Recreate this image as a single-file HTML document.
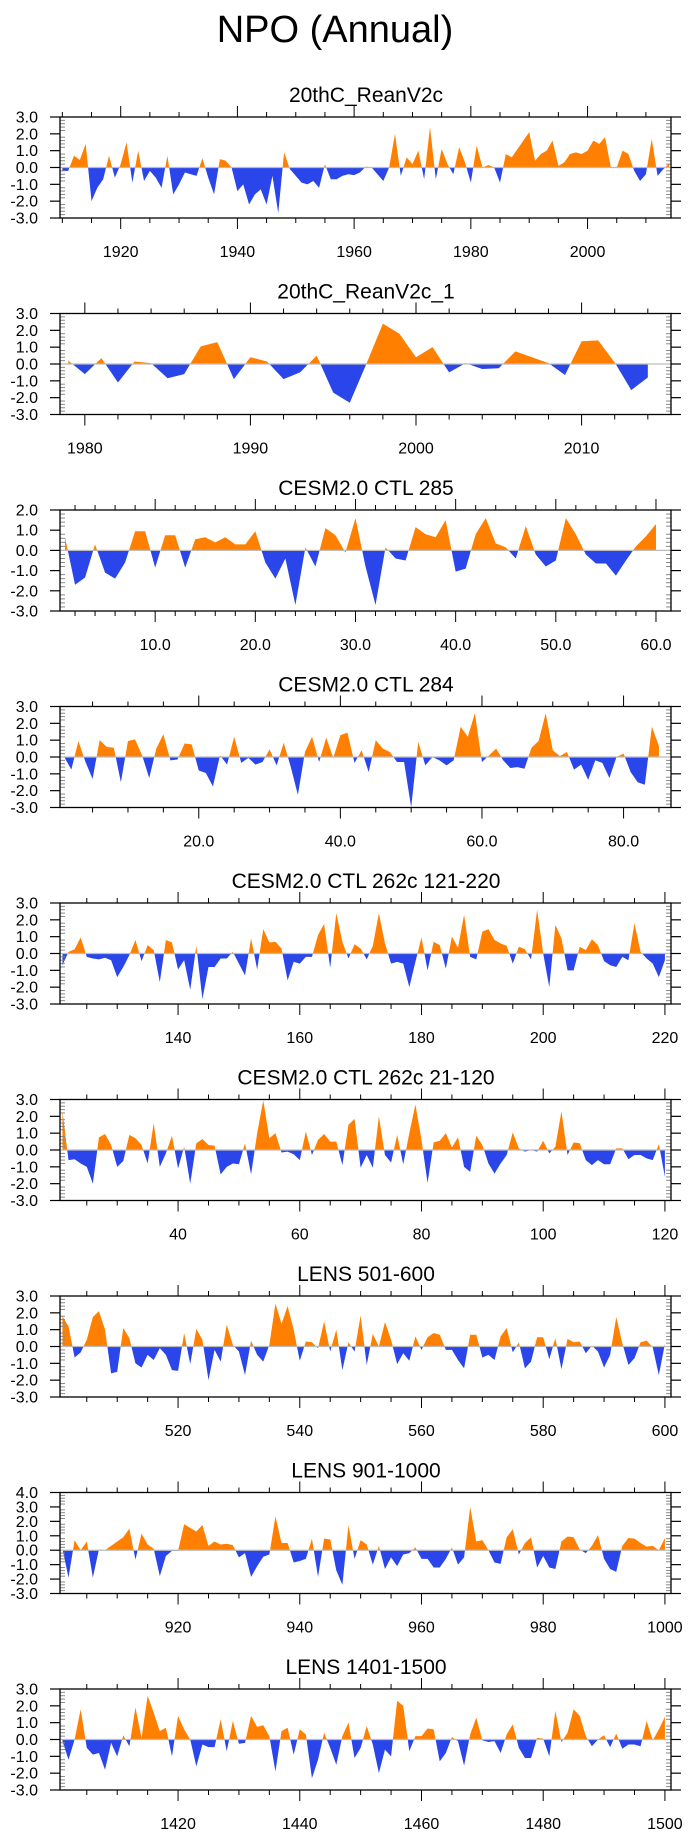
<!DOCTYPE html>
<html><head><meta charset="utf-8"><style>
html,body{margin:0;padding:0;background:#fff;}
svg{display:block;font-family:"Liberation Sans",sans-serif;}
</style></head><body>
<svg id="chart" width="690" height="1836" viewBox="0 0 690 1836">
<text x="335" y="42" font-size="38" text-anchor="middle">NPO (Annual)</text>
</svg>
<script>
const titles = ["20thC_ReanV2c","20thC_ReanV2c_1","CESM2.0 CTL 285","CESM2.0 CTL 284","CESM2.0 CTL 262c 121-220","CESM2.0 CTL 262c 21-120","LENS 501-600","LENS 901-1000","LENS 1401-1500"];
const startX = [1910,1979,1,1,121,21,501,901,1401];
const s1 = [-0.2,-0.2,0.7,0.45,1.4,-2.0,-1.2,-0.7,0.7,-0.6,0.2,1.5,-0.9,1.0,-0.8,-0.2,-0.6,-1.2,0.7,-1.6,-1.0,-0.3,-0.4,-0.5,0.55,-0.6,-1.6,0.5,0.4,0.0,-1.4,-1.0,-2.2,-1.6,-1.3,-2.2,-0.5,-2.7,0.9,-0.1,-0.5,-0.9,-1.0,-0.8,-1.2,0.2,-0.7,-0.7,-0.5,-0.4,-0.45,-0.3,0.05,0.0,-0.4,-0.8,0.0,2.0,-0.5,0.6,0.2,1.0,-0.7,2.4,-0.7,1.1,0.2,-0.4,1.2,0.3,-0.9,1.3,0.0,0.15,0.0,-0.9,0.8,0.6,1.1,1.6,2.1,0.4,0.8,1.0,1.6,0.1,0.3,0.8,0.9,0.8,1.0,1.6,1.4,1.8,0.0,0.0,1.0,0.8,-0.2,-0.8,-0.4,1.7,-0.5,-0.1,0.25];
const s2 = [0.2,-0.6,0.35,-1.1,0.15,0.05,-0.85,-0.6,1.05,1.3,-0.9,0.4,0.15,-0.9,-0.5,0.5,-1.7,-2.3,0.0,2.4,1.8,0.4,1.0,-0.5,0.05,-0.3,-0.25,0.75,0.4,0.05,-0.65,1.35,1.4,0.1,-1.55,-0.8];
const s3 = [0.65,-1.7,-1.35,0.3,-1.1,-1.4,-0.6,0.95,0.95,-0.85,0.75,0.75,-0.85,0.55,0.65,0.4,0.65,0.3,0.3,0.95,-0.6,-1.4,-0.4,-2.7,0.15,-0.8,1.1,0.75,-0.1,1.6,-0.8,-2.7,0.15,-0.4,-0.5,1.15,0.8,0.65,1.5,-1.05,-0.9,0.8,1.6,0.35,0.15,-0.4,1.2,-0.2,-0.8,-0.5,1.6,0.8,-0.2,-0.65,-0.65,-1.25,-0.5,0.2,0.7,1.3];
const s4 = [0.0,-0.75,0.95,-0.3,-1.3,1.0,0.6,0.55,-1.5,0.95,1.05,0.1,-1.25,0.5,1.35,-0.2,-0.15,0.8,0.75,-0.8,-0.95,-1.75,0.1,-0.45,1.2,-0.35,-0.05,-0.45,-0.3,0.45,-0.5,0.85,-0.6,-2.25,0.3,1.2,-0.3,1.15,-0.05,1.3,1.45,-0.35,0.4,-0.9,1.0,0.5,0.3,-0.3,-0.3,-3.0,0.9,-0.5,0.0,-0.2,-0.5,-0.2,1.8,1.2,2.6,-0.3,0.1,0.5,-0.2,-0.65,-0.6,-0.7,0.55,0.95,2.6,0.4,0.05,0.3,-0.75,-0.45,-1.35,-0.2,-0.35,-1.25,0.0,0.2,-0.9,-1.5,-1.65,1.8,0.65];
const s5 = [-0.7,0.1,0.25,0.95,-0.2,-0.3,-0.35,-0.25,-0.4,-1.4,-0.8,-0.1,0.8,-0.45,0.5,0.2,-1.7,0.8,0.65,-0.95,-0.4,-2.15,0.45,-2.7,-0.8,-0.8,-0.3,-0.3,0.1,-0.6,-1.3,0.9,-0.95,1.45,0.65,0.7,0.3,-1.6,-0.5,-0.6,-0.2,-0.2,1.1,1.75,-0.85,2.4,0.7,-0.3,0.55,0.3,-0.35,0.45,2.4,0.6,-0.6,-0.5,-0.6,-2.0,-0.5,0.95,-1.0,0.7,0.5,-0.9,1.0,0.35,2.3,-0.2,-0.35,1.3,1.45,0.8,0.6,0.45,-0.6,0.4,0.25,-0.35,2.6,0.0,-2.0,1.7,0.9,-1.0,-1.0,0.4,0.2,0.85,0.5,-0.45,-0.7,-0.8,-0.2,-0.4,1.8,0.1,-0.3,-0.6,-1.4,-0.4];
const s6 = [2.3,-0.6,-0.55,-0.8,-1.0,-2.0,0.75,0.95,0.3,-1.0,-0.65,0.9,0.7,0.3,-0.8,1.6,-1.0,-0.2,0.85,-1.1,0.2,-2.0,0.4,0.65,0.3,0.25,-1.45,-1.0,-0.8,-0.85,0.4,-1.45,1.0,2.95,0.7,1.0,-0.15,-0.1,-0.25,-0.6,1.1,-0.3,0.6,0.95,0.5,0.5,-0.9,1.5,1.85,-1.05,-0.3,-1.05,2.0,-0.3,-0.75,0.9,-0.85,1.0,2.7,0.6,-1.95,0.45,0.55,1.0,0.15,0.75,-1.0,-1.3,0.85,0.3,-0.8,-1.4,-0.8,-0.3,1.05,0.1,-0.1,0.0,-0.1,0.55,-0.2,0.2,2.3,-0.3,0.45,0.4,-0.6,-0.9,-0.6,-0.85,-0.85,0.1,0.1,-0.55,-0.3,-0.3,-0.5,-0.6,0.35,-1.6];
const s7 = [1.8,1.2,-0.65,-0.35,0.4,1.75,2.1,1.0,-1.6,-1.5,1.1,0.5,-1.0,-1.25,-0.5,-0.8,-0.1,-0.5,-1.4,-1.45,0.8,-1.05,1.05,0.4,-2.0,-0.2,-0.9,1.3,0.1,-0.3,-1.7,0.35,-0.5,-0.9,0.1,2.55,1.35,2.4,1.0,-0.85,0.3,0.25,-0.1,1.5,-0.3,1.0,-1.4,0.25,-0.3,1.85,-1.1,0.75,0.0,1.45,0.4,-1.05,-0.4,-0.85,0.6,-0.2,0.55,0.8,0.7,-0.2,-0.2,-0.8,-1.3,0.7,0.7,-0.65,-0.5,-0.8,0.6,1.1,-0.35,0.25,-1.3,-0.9,0.55,0.55,-0.75,0.5,-1.35,0.45,0.25,0.3,-0.4,0.05,-0.3,-1.25,-0.5,1.75,0.2,-1.1,-0.7,0.25,0.35,-0.05,-1.7,0.15];
const s8 = [0.1,-1.9,0.7,0.0,0.6,-1.9,0.05,0.0,0.3,0.6,0.9,1.5,-0.65,1.15,0.4,0.1,-1.8,-0.4,-0.05,-0.05,1.8,1.55,1.3,1.75,0.3,0.6,0.4,0.45,0.35,-0.5,-0.2,-1.85,-1.1,-0.45,-0.3,2.35,0.5,0.5,-0.85,-0.75,-0.6,0.8,-1.85,0.8,0.75,-1.4,-2.4,1.75,-0.6,0.7,0.4,-1.0,0.3,-1.3,-0.5,-1.1,-0.3,-0.2,0.2,-0.6,-0.6,-1.2,-1.2,-0.6,0.2,-1.0,-0.5,3.0,0.6,0.7,0.0,-0.85,-0.95,0.9,1.45,-0.3,0.5,0.9,-1.2,-0.4,-1.2,-1.3,0.6,0.95,0.9,0.05,-0.2,0.3,1.05,-0.6,-1.3,-1.5,0.3,0.85,0.8,0.5,0.25,0.3,0.0,0.85];
const s9 = [-0.1,-1.2,0.0,1.8,-0.5,-0.9,-0.8,-1.8,-0.2,-1.0,0.25,-0.4,1.9,0.1,2.6,1.6,0.5,0.7,-1.0,1.4,0.6,0.0,-1.6,-0.3,-0.45,-0.45,1.2,-0.7,1.1,-0.25,-0.2,1.4,0.75,0.85,0.2,-1.9,0.5,0.7,-0.9,0.6,0.3,-2.3,-1.2,0.4,-0.5,-1.5,0.2,1.0,-1.1,-0.5,0.8,-0.3,-2.0,-0.6,-1.0,2.3,2.0,-0.7,0.2,0.2,0.65,0.6,-1.3,-0.8,0.15,-0.1,-1.55,0.3,1.3,-0.05,-0.15,-0.1,-0.8,0.3,0.9,-0.5,-1.1,-1.1,0.1,0.05,-1.0,1.7,-0.15,0.4,1.8,1.4,0.2,-0.4,0.0,0.25,-0.45,0.35,-0.55,-0.3,-0.3,-0.4,1.1,-0.05,0.6,1.35];
const series = [s1,s2,s3,s4,s5,s6,s7,s8,s9];
const xMin = [1909.6,1978.5,0.5,0.4,120.6,20.6,500.6,900.6,1400.6];
const xMax = [2014.3,2015.4,61.5,86.7,221,121,601,1001,1501];
const yMin = [-3,-3,-3,-3,-3,-3,-3,-3,-3];
const yMax = [3,3,2,3,3,3,3,4,3];
const xMajor = [[1920,1940,1960,1980,2000],[1980,1990,2000,2010],[10,20,30,40,50,60],[20,40,60,80],[140,160,180,200,220],[40,60,80,100,120],[520,540,560,580,600],[920,940,960,980,1000],[1420,1440,1460,1480,1500]];
const xMinorStep = [5,2,2,5,5,5,5,5,5];
const xDecimals = [0,0,1,1,0,0,0,0,0];

const NS = "http://www.w3.org/2000/svg";
const svg = document.getElementById("chart");
const L = 60, R = 671, H = 101;
function mk(tag, attrs, parent){ const e=document.createElementNS(NS,tag); for(const k in attrs) e.setAttribute(k,attrs[k]); (parent||svg).appendChild(e); return e; }

for (let p=0;p<9;p++){
  const top = 117 + p*196.5, bot = top + H;
  const g = mk("g",{});
  
  
  const sx = v => L + (v - xMin[p])/(xMax[p]-xMin[p])*(R-L);
  const sy = v => bot - (v - yMin[p])/(yMax[p]-yMin[p])*H;
  const t = mk("text",{x:366,y:top-15,"font-size":21,"text-anchor":"middle"},g);
  t.textContent = titles[p];
  
  
  const y0 = sy(0);
  const cu = mk("clipPath",{id:"cu"+p},g); mk("rect",{x:L,y:top,width:R-L,height:y0-top},cu);
  const cd = mk("clipPath",{id:"cd"+p},g); mk("rect",{x:L,y:y0,width:R-L,height:bot-y0},cd);
  const d = series[p];
  let pts = sx(startX[p])+","+y0+" ";
  d.forEach((v,i)=>{ pts += sx(startX[p]+i)+","+sy(v)+" "; });
  pts += sx(startX[p]+d.length-1)+","+y0;
  const a1 = mk("polygon",{points:pts,fill:"#ff8000","clip-path":"url(#cu"+p+")"},g);
  
  
  const a2 = mk("polygon",{points:pts,fill:"#2a46ea","clip-path":"url(#cd"+p+")"},g);
  
  
  mk("line",{x1:L,x2:R,y1:y0,y2:y0,stroke:"#bbb","stroke-width":1.2},g);
  for (let v=yMin[p]; v<=yMax[p]+1e-9; v+=0.2){
    const yy = sy(v), maj = Math.abs(v-Math.round(v))<1e-6;
    if (maj){
      mk("line",{x1:L-10,x2:L,y1:yy,y2:yy,stroke:"#000","stroke-width":1.2},g);
      mk("line",{x1:R,x2:R+10,y1:yy,y2:yy,stroke:"#000","stroke-width":1.2},g);
      const lb = mk("text",{x:38,y:yy+5.5,"font-size":16,"text-anchor":"end"},g);
      lb.textContent = Math.round(v).toFixed(1);
      
      
    } else {
      mk("line",{x1:L,x2:L+5,y1:yy,y2:yy,stroke:"#888","stroke-width":1},g);
      mk("line",{x1:R-5,x2:R,y1:yy,y2:yy,stroke:"#888","stroke-width":1},g);
    }
  }
  const st = xMinorStep[p];
  for (let v=Math.ceil(xMin[p]/st)*st; v<=xMax[p]; v+=st){
    const xx = sx(v), maj = xMajor[p].includes(v);
    const len = maj?11:5;
    mk("line",{x1:xx,x2:xx,y1:bot,y2:bot+len,stroke:"#000","stroke-width":1},g);
    mk("line",{x1:xx,x2:xx,y1:top-len,y2:top,stroke:"#000","stroke-width":1},g);
  }
  xMajor[p].forEach(v=>{
    const lb = mk("text",{x:sx(v),y:bot+39,"font-size":16,"text-anchor":"middle"},g);
    lb.textContent = v.toFixed(xDecimals[p]);
    
    
  });
  const fr = mk("rect",{x:L,y:top,width:R-L,height:H,fill:"none",stroke:"#000","stroke-width":1.3},g);
  
  
}
</script>
</body></html>
